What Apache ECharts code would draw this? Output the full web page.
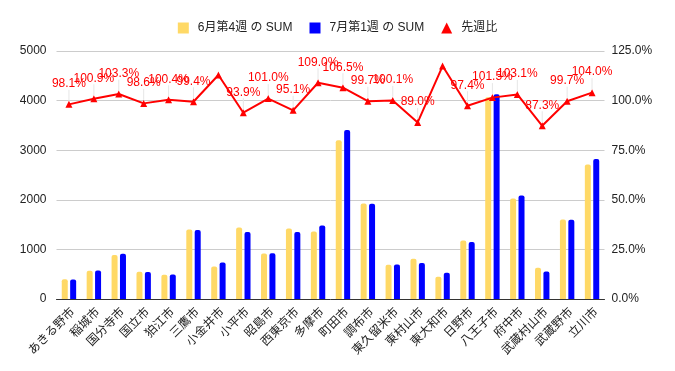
<!DOCTYPE html>
<html><head><meta charset="utf-8">
<script src="https://cdn.jsdelivr.net/npm/echarts@6/dist/echarts.min.js"></script>
<style>html,body{margin:0;padding:0;background:#fff}#c{width:675px;height:371px}</style>
</head><body><div id="c"></div>
<script>
const categories = ['あきる野市','稲城市','国分寺市','国立市','狛江市','三鷹市','小金井市','小平市','昭島市','西東京市','多摩市','町田市','調布市','東久留米市','東村山市','東大和市','日野市','八王子市','府中市','武蔵村山市','武蔵野市','立川市'];
const june = [400, 570, 885, 550, 490, 1400, 653, 1440, 915, 1420, 1360, 3200, 1925, 693, 814, 450, 1178, 4066, 2026, 632, 1602, 2713];
const july = [392, 575, 914, 542, 492, 1392, 734, 1352, 924, 1350, 1482, 3408, 1919, 694, 724, 528, 1147, 4127, 2089, 552, 1597, 2822];
const ratio = [98.1, 100.9, 103.3, 98.6, 100.4, 99.4, 112.9, 93.9, 101.0, 95.1, 109.0, 106.5, 99.7, 100.1, 89.0, 117.4, 97.4, 101.5, 103.1, 87.3, 99.7, 104.0];
const hiddenLabels = [6, 15];
const leftTicks = [0, 1000, 2000, 3000, 4000, 5000];
const rightTicks = [0, 25, 50, 75, 100, 125];
const seriesNames = ['6月第4週 の SUM', '7月第1週 の SUM', '先週比'];

const FONT = '"Liberation Sans", Arial, "Noto Sans CJK JP", sans-serif';
const chart = echarts.init(document.getElementById('c'), null, {renderer: 'canvas'});
chart.setOption({
  animation: false,
  textStyle: {fontFamily: FONT},
  legend: {
    top: 17, left: 'center',
    itemWidth: 11, itemHeight: 11, itemGap: 17,
    textStyle: {fontSize: 12, color: '#222', fontFamily: FONT, padding: [0,0,0,4]},
    data: [
      {name: seriesNames[0], icon: 'rect'},
      {name: seriesNames[1], icon: 'rect'},
      {name: seriesNames[2], icon: 'triangle'}
    ]
  },
  grid: {left: 56.5, right: 70.5, top: 51, bottom: 72, containLabel: false},
  xAxis: {
    type: 'category', data: categories,
    axisTick: {show: false},
    axisLine: {lineStyle: {color: '#333', width: 1}},
    axisLabel: {rotate: 45, interval: 0, fontSize: 12, color: '#222', margin: 7, verticalAlign: 'top', fontFamily: FONT}
  },
  yAxis: [
    {type: 'value', min: leftTicks[0], max: leftTicks[leftTicks.length-1], interval: 1000,
     axisLine: {show: false}, axisTick: {show: false},
     splitLine: {lineStyle: {color: '#cccccc'}},
     axisLabel: {fontSize: 12, color: '#222', margin: 10, formatter: v => String(v)}},
    {type: 'value', min: rightTicks[0], max: rightTicks[rightTicks.length-1], interval: 25,
     axisLine: {show: false}, axisTick: {show: false},
     splitLine: {show: false},
     axisLabel: {fontSize: 12, color: '#222', margin: 7, formatter: v => v.toFixed(1) + '%'}}
  ],
  series: [
    {name: seriesNames[0], type: 'bar', data: june, barWidth: 6, barGap: '40%',
     itemStyle: {color: '#ffd966', borderRadius: [2,2,0,0]}},
    {name: seriesNames[1], type: 'bar', data: july, barWidth: 6,
     itemStyle: {color: '#0000ff', borderRadius: [2,2,0,0]}},
    {name: seriesNames[2], type: 'line', yAxisIndex: 1,
     data: ratio.map((v, i) => hiddenLabels.includes(i) ? {value: v, label: {show: false}} : v),
     symbol: 'triangle', symbolSize: 7,
     lineStyle: {color: '#ff0000', width: 2},
     itemStyle: {color: '#ff0000'},
     label: {show: true, position: 'top', distance: 4, color: '#ff0000', fontSize: 12, fontFamily: FONT,
             formatter: p => p.value.toFixed(1) + '%'},
     labelLayout: {dy: -7},
     labelLine: {show: true, lineStyle: {color: '#e6e6e6', width: 1}},
     z: 5}
  ]
});
</script></body></html>
